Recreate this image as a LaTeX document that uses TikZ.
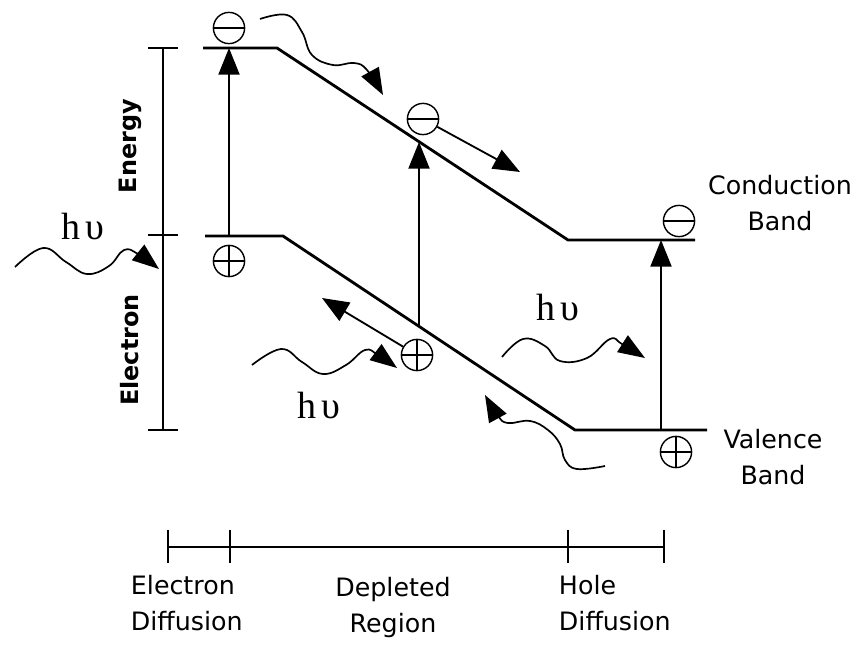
\documentclass[tikz,border=0pt]{standalone}
\usepackage{fontspec}
\setmainfont{DejaVu Sans}
\newfontfamily\hvfont{Liberation Serif}
\usetikzlibrary{arrows.meta}

\begin{document}
\begin{tikzpicture}[x=0.025cm, y=-0.025cm,
    band/.style={line width=2pt},
    axis/.style={line width=1.3pt},
    excite/.style={line width=1.3pt, -{Triangle[length=19pt,width=15pt]}},
    photon/.style={line width=1.2pt, -{Triangle[length=19pt,width=14pt]}},
    carrier/.style={circle, draw, line width=1pt, minimum size=0.78cm, inner sep=0pt},
    minus/.style={carrier, path picture={\draw[line width=1pt] (path picture bounding box.west) -- (path picture bounding box.east);}},
    plus/.style={carrier, path picture={\draw[line width=1pt] (path picture bounding box.west) -- (path picture bounding box.east) (path picture bounding box.north) -- (path picture bounding box.south);}},
    lbl/.style={font=\fontsize{18}{26}\selectfont, align=center},
    axlbl/.style={font=\bfseries\fontsize{17}{20}\selectfont, rotate=90},
    hv/.style={font=\hvfont\fontsize{27}{30}\selectfont, anchor=base west, inner sep=0pt}
]
\useasboundingbox (0,0) rectangle (859,644);

% energy axis
\draw[axis] (163,48) -- (163,430);
\foreach \y in {48,235,430}
    \draw[axis] (148,\y) -- (178,\y);
\node[axlbl] (energy) at (130,146) {Energy};
\node[axlbl] (electron) at (130,350) {Electron};

% bands
\draw[band] (203,48) -- (277,48) -- (568,240) -- (695,240);
\draw[band] (205,236) -- (283,236) -- (575,430) -- (707,430);
\node[lbl] (cband) at (780,203) {Conduction\\Band};
\node[lbl] (vband) at (773,457) {Valence\\Band};

% excitations
\coordinate (v1) at (229,236);
\coordinate (c1) at (229,48);
\coordinate (v2) at (419,326);
\coordinate (c2) at (419,142);
\coordinate (v3) at (661,430);
\coordinate (c3) at (661,240);
\draw[excite] (v1) -- (c1);
\draw[excite] (v2) -- (c2);
\draw[excite] (v3) -- (c3);

\node[minus] (e1) at (229,28) {};
\node[plus] (h1) at (229,261) {};
\node[minus] (e2) at (423,119) {};
\node[plus] (h2) at (417,355) {};
\node[minus] (e3) at (679,221) {};
\node[plus] (h3) at (676,452) {};

% drift
\coordinate (e2end) at (520,172);
\coordinate (h2end) at (322,298);
\draw[excite] (e2) -- (e2end);
\draw[excite] (h2) -- (h2end);

% photons
\draw[photon] plot[smooth, tension=0.7] coordinates {(260,19) (287,15) (302,32) (312,55) (333,65) (354,63) (367,70) (383,95)};
\draw[photon] plot[smooth, tension=0.7] coordinates {(15,267) (43,248) (66,262) (87,274) (109,266) (124,250) (138,254) (159,269)};
\draw[photon] plot[smooth, tension=0.7] coordinates {(252,365) (281,349) (302,362) (323,374) (346,365) (365,350) (378,355) (397,368)};
\draw[photon] plot[smooth, tension=0.7] coordinates {(502,357) (523,339) (545,346) (560,361) (587,358) (610,339) (622,344) (645,358)};
\draw[photon] plot[smooth, tension=0.7] coordinates {(605,466) (577,469) (565,460) (560,444) (548,430) (530,421) (508,423) (498,416) (485,395)};
\node[hv] (hv1) at (61,239) {h\hspace{4pt}υ};
\node[hv] (hv2) at (297,418) {h\hspace{4pt}υ};
\node[hv] (hv3) at (536,320) {h\hspace{4pt}υ};

% regions
\draw[axis] (168,547) -- (664,547);
\foreach \x in {168,230,568,664}
    \draw[axis] (\x,530) -- (\x,563);
\node[lbl, align=left, anchor=north west] (ediff) at (126,570) {Electron\\Diffusion};
\node[lbl, anchor=north] (depl) at (393,572) {Depleted\\Region};
\node[lbl, align=left, anchor=north west] (hdiff) at (554,570) {Hole\\Diffusion};
\end{tikzpicture}
\end{document}
